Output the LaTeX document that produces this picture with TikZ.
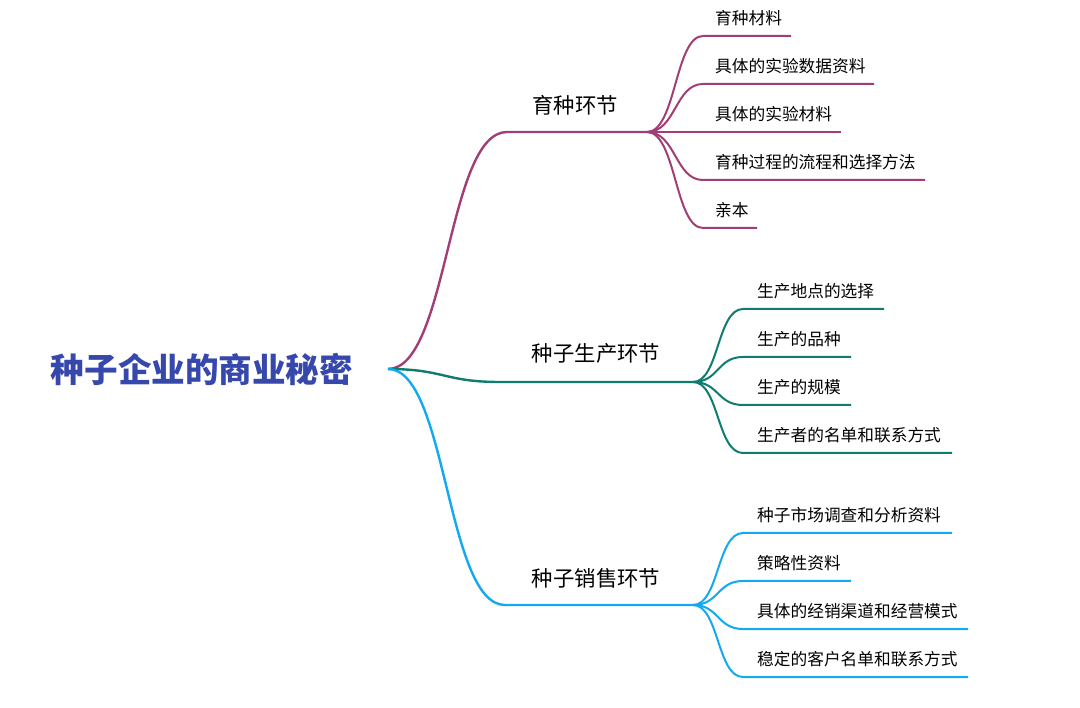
\documentclass[tikz,border=0pt]{standalone}
\usepackage{fontspec}
\setmainfont{Noto Sans CJK SC}
\definecolor{lila}{HTML}{A23E75}
\definecolor{petrol}{HTML}{0E7C6E}
\definecolor{hellblau}{HTML}{12A9F2}
\definecolor{tinte}{HTML}{3748AC}
\tikzset{
  wurzel/.style={font=\fontsize{33.6}{38}\selectfont\bfseries,text=tinte,inner sep=0pt},
  zweig/.style={font=\fontsize{21.4}{25}\selectfont,inner sep=0pt},
  blatt/.style={font=\fontsize{16.7}{20}\selectfont,inner sep=0pt,anchor=west},
  ast/.style={line width=2.4pt},
  zweiglein/.style={line width=2pt}
}
\begin{document}
\begin{tikzpicture}[x=1pt,y=-1pt]
\useasboundingbox (0,0) rectangle (1080,708);
%Wurzel
	\node[wurzel] (wurzel) at (202,369) {种子企业的商业秘密};
	\coordinate (start) at (388,369);
%Äste
	\coordinate (a1) at (507,132);
	\coordinate (h1) at (647,132);
	\coordinate (a2) at (500,382);
	\coordinate (h2) at (693,382);
	\coordinate (a3) at (505,605);
	\coordinate (h3) at (693,605);
	\draw[ast,lila] (start) .. controls (448,369) and (447,132) .. (a1) -- (h1);
	\draw[ast,petrol] (start) .. controls (444,369) and (444,382) .. (a2) -- (h2);
	\draw[ast,hellblau] (start) .. controls (447,369) and (446,605) .. (a3) -- (h3);
	\node[zweig] (z1) at (575,105) {育种环节};
	\node[zweig] (z2) at (596,353) {种子生产环节};
	\node[zweig] (z3) at (596,578) {种子销售环节};
%Blätter育种
  \foreach \t/\e [count=\i] in {育种材料/791,具体的实验数据资料/874,具体的实验材料/841,育种过程的流程和选择方法/925,亲本/757}{
	  \coordinate (l1-\i) at (703,{36+48*(\i-1)});
	  \coordinate (e1-\i) at (\e,{36+48*(\i-1)});
	  \draw[zweiglein,lila] (h1) .. controls (676,132) and (675,{36+48*(\i-1)}) .. (l1-\i) -- (e1-\i);
	  \node[blatt] (b1-\i) at (715,{18+48*(\i-1)}) {\t};}
%Blätter生产
  \foreach \t/\e [count=\i] in {生产地点的选择/884,生产的品种/851,生产的规模/851,生产者的名单和联系方式/952}{
	  \coordinate (l2-\i) at (743,{309+48*(\i-1)});
	  \coordinate (e2-\i) at (\e,{309+48*(\i-1)});
	  \draw[zweiglein,petrol] (h2) .. controls (719,382) and (717,{309+48*(\i-1)}) .. (l2-\i) -- (e2-\i);
	  \node[blatt] (b2-\i) at (757,{291+48*(\i-1)}) {\t};}
%Blätter销售
  \foreach \t/\e [count=\i] in {种子市场调查和分析资料/952,策略性资料/851,具体的经销渠道和经营模式/968,稳定的客户名单和联系方式/968}{
	  \coordinate (l3-\i) at (743,{533+48*(\i-1)});
	  \coordinate (e3-\i) at (\e,{533+48*(\i-1)});
	  \draw[zweiglein,hellblau] (h3) .. controls (719,605) and (717,{533+48*(\i-1)}) .. (l3-\i) -- (e3-\i);
	  \node[blatt] (b3-\i) at (757,{515+48*(\i-1)}) {\t};}
\end{tikzpicture}
\end{document}
